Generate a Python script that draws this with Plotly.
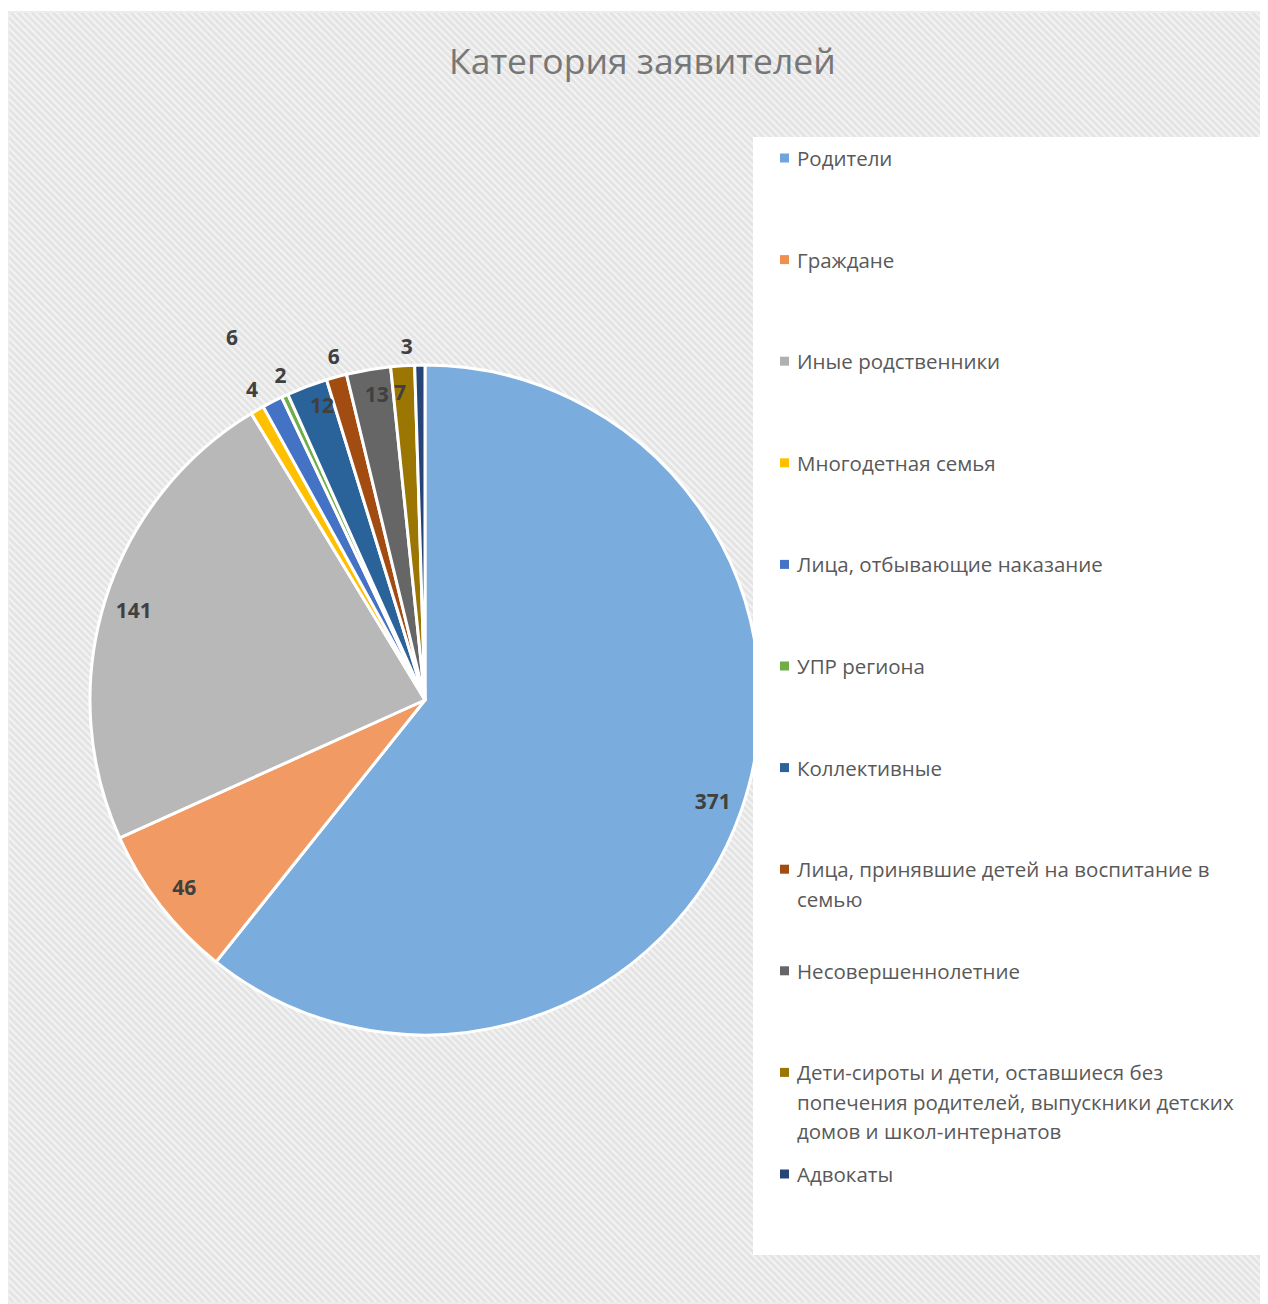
import base64
import plotly.graph_objects as go

labels = [
    "Родители",
    "Граждане",
    "Иные родственники",
    "Многодетная семья",
    "Лица, отбывающие наказание",
    "УПР региона",
    "Коллективные",
    "Лица, принявшие детей на воспитание в<br>семью",
    "Несовершеннолетние",
    "Дети-сироты и дети, оставшиеся без<br>попечения родителей, выпускники детских<br>домов и школ-интернатов",
    "Адвокаты",
]
values = [371, 46, 141, 4, 6, 2, 12, 6, 13, 7, 3]
colors = ["#7aaddd", "#f19a63", "#b8b8b8", "#ffc000", "#4472c4", "#70ad47",
          "#2a6399", "#a24c12", "#666666", "#9c7602", "#264478"]
legend_colors = ["#6fa5da", "#f08e4f", "#b0b0b0", "#ffc000", "#4472c4", "#70ad47",
                 "#2a6399", "#a24c12", "#666666", "#9c7602", "#264478"]

W, H = 1260, 1296
OFF = 8

def px(x):
    return (x - OFF) / W

def py(y):
    return 1 - (y - OFF) / H

svg = f"""<svg xmlns='http://www.w3.org/2000/svg' width='{W}' height='{H}'>
<defs><pattern id='p' width='5' height='5' patternUnits='userSpaceOnUse' patternTransform='rotate(45)'>
<rect width='5' height='5' fill='#e4e4e4'/><rect width='5' height='2' fill='#f3f3f3'/></pattern></defs>
<rect width='{W}' height='{H}' fill='url(#p)'/></svg>"""
src = "data:image/svg+xml;base64," + base64.b64encode(svg.encode()).decode()

CX, CY, R = 425, 700, 335

def dom(r):
    return dict(x=[px(CX - r), px(CX + r)], y=[py(CY + r), py(CY - r)])

# label placement helpers: (slice indices, plotly textposition, helper radius, rotation, hole)
label_helpers = [
    ([0, 1, 2], "inside", R, 0, 0.82),   # big slices: inside, near the rim
    ([3], "outside", R + 5, 2, 0),
    ([5], "outside", R + 5, 2, 0),
    ([7], "outside", R + 5, 2, 0),
    ([10], "outside", R + 5, 0, 0),
    ([4], "outside", 395, 0, 0),
    ([6], "outside", 294, 4, 0),          # narrow slices labelled inside the pie
    ([8], "outside", 294, 4, 0),
    ([9], "outside", 294, 1.5, 0),
]

lab_font = dict(family="Open Sans", size=21, color="#404040", weight="bold")
clear = dict(colors=["rgba(0,0,0,0)"] * len(values), line=dict(width=0))

fig = go.Figure()
fig.add_trace(go.Pie(
    labels=labels, values=values, sort=False, direction="clockwise", rotation=0,
    marker=dict(colors=colors, line=dict(color="white", width=3)),
    textinfo="none", hoverinfo="skip", showlegend=False, domain=dom(R),
))

for idx, pos, r, rot, hole in label_helpers:
    tp = [pos if i in idx else "none" for i in range(len(values))]
    fig.add_trace(go.Pie(
        labels=labels, values=values, sort=False, direction="clockwise",
        rotation=rot, hole=hole, marker=clear,
        texttemplate="%{value}", textposition=tp, insidetextorientation="horizontal",
        textfont=lab_font, outsidetextfont=lab_font, insidetextfont=lab_font,
        hoverinfo="skip", showlegend=False, domain=dom(r),
    ))

shapes = [
    dict(type="rect", xref="paper", yref="paper", x0=px(8), x1=px(1267), y0=py(1303), y1=py(12),
         line=dict(color="#d9d9d9", width=1), fillcolor="rgba(0,0,0,0)", layer="below"),
    dict(type="rect", xref="paper", yref="paper", x0=px(753), x1=px(1265), y0=py(1255), y1=py(137),
         line=dict(width=0), fillcolor="white", layer="above"),
]
annotations = [
    dict(text="Категория заявителей", x=px(642), y=py(60), xref="paper", yref="paper",
         xanchor="center", yanchor="middle", showarrow=False,
         font=dict(family="Open Sans", size=35.5, color="#777777")),
]
for i, (lab, col) in enumerate(zip(labels, legend_colors)):
    yc = 158 + i * 101.6
    shapes.append(dict(type="rect", xref="paper", yref="paper",
                       x0=px(780), x1=px(789), y0=py(yc + 4.5), y1=py(yc - 4.5),
                       fillcolor=col, line=dict(width=0), layer="above"))
    for j, line in enumerate(lab.split("<br>")):
        annotations.append(dict(text=line, x=px(795), y=py(yc + j * 29.5), xref="paper", yref="paper",
                                xanchor="left", yanchor="middle", align="left", showarrow=False,
                                font=dict(family="Open Sans", size=20.5, color="#595959")))

fig.update_layout(
    width=W, height=H, margin=dict(l=0, r=0, t=0, b=0),
    paper_bgcolor="white", plot_bgcolor="white",
    images=[dict(source=src, xref="paper", yref="paper", x=px(9), y=py(13),
                 sizex=px(1266) - px(9), sizey=py(13) - py(1302),
                 xanchor="left", yanchor="top", sizing="stretch", layer="below")],
    shapes=shapes, annotations=annotations,
)
fig.write_html("out.html")
